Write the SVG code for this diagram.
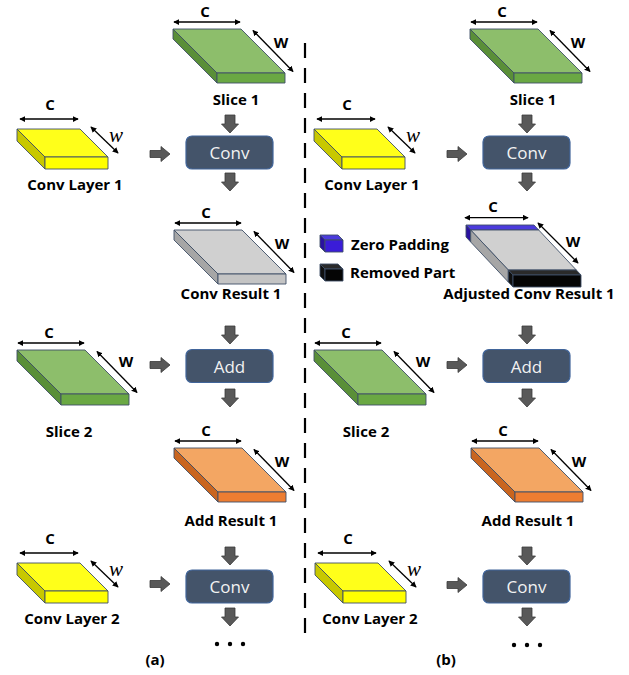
<svg xmlns="http://www.w3.org/2000/svg" width="629" height="675" viewBox="0 0 629 675">
  <style>
    .lbl { font-family: "Open Sans", "Liberation Sans", Arial, sans-serif; font-weight: 700; font-size: 15px; fill: #000; text-anchor: middle; }
    .dim { font-family: "Open Sans", "Liberation Sans", Arial, sans-serif; font-weight: 700; font-size: 15px; fill: #000; text-anchor: middle; }
    .wi { font-family: "Liberation Serif", "DejaVu Serif", serif; font-style: italic; font-size: 21px; fill: #000; text-anchor: middle; }
    .leg { font-family: "Open Sans", "Liberation Sans", Arial, sans-serif; font-weight: 700; font-size: 15px; fill: #000; }
    .op { fill: #44546A; stroke: #41659A; stroke-width: 1.2; }
    .opt { font-family: "Open Sans", "Liberation Sans", Arial, sans-serif; font-size: 17px; fill: #F2F2F2; text-anchor: middle; }
    .edge { stroke: #3E4F66; stroke-width: 0.9; stroke-linejoin: round; }
    .gT { fill: #8DBE6B; } .gF { fill: #6AA843; } .gL { fill: #5A8F38; }
    .yT { fill: #FFFF1A; } .yF { fill: #FFFF00; } .yL { fill: #C8C800; }
    .sT { fill: #D0D0D0; } .sF { fill: #C4C4C4; } .sL { fill: #A6A6A6; }
    .oT { fill: #F3A663; } .oF { fill: #ED7D31; } .oL { fill: #C9651F; }
    .bT { fill: #4B3BDC; } .bF { fill: #3A1CD8; } .bL { fill: #2A12A0; }
    .kT { fill: #2A2A2A; } .kF { fill: #050505; } .kL { fill: #101010; }
    .dimline { stroke: #000; stroke-width: 1.3; fill: none; marker-start: url(#tip); marker-end: url(#tip); }
    .blk { fill: #595959; stroke: #3A3A3A; stroke-width: 0.8; }
    .sep { stroke: #000; stroke-width: 2.2; stroke-dasharray: 15 10; }
  </style>
  <defs>
    <marker id="tip" viewBox="0 0 8 8" refX="7" refY="4" markerWidth="6" markerHeight="6" markerUnits="userSpaceOnUse" orient="auto-start-reverse">
      <path d="M0,0 L8,4 L0,8 Z" fill="#000"/>
    </marker>
    <path id="down" class="blk" d="M-5,0 H5 V9 H8.5 L0,18 L-8.5,9 H-5 Z"/>
    <path id="right" class="blk" d="M0,-3.5 H11 V-7.5 L20,0 L11,7.5 V3.5 H0 Z"/>
  </defs>

  <!-- separator between the two variants -->
  <line class="sep" x1="305" y1="43" x2="305" y2="635"/>

  <!-- ===== (a) ===== -->
  <g id="a-slice1" transform="translate(173,29)">
    <polygon class="gT edge" points="0,0 68,0 112,44 44,44"/>
    <polygon class="gL edge" points="0,0 44,44 44,54 0,10"/>
    <polygon class="gF edge" points="44,44 112,44 112,54 44,54"/>
    <line class="dimline" x1="1" y1="-7" x2="67" y2="-7"/>
    <text class="dim" x="32" y="-12">C</text>
    <line class="dimline" x1="80" y1="1.5" x2="120" y2="42.5"/>
    <text class="dim" x="108" y="19">W</text>
    <text class="lbl" x="63" y="76">Slice 1</text>
  </g>

  <g id="a-convlayer1" transform="translate(17,129)">
    <polygon class="yT edge" points="0,0 63,0 91,28 28,28"/>
    <polygon class="yL edge" points="0,0 28,28 28,40 0,12"/>
    <polygon class="yF edge" points="28,28 91,28 91,40 28,40"/>
    <line class="dimline" x1="3" y1="-10" x2="61" y2="-10"/>
    <text class="dim" x="33" y="-19">C</text>
    <line class="dimline" x1="74" y1="-2" x2="101" y2="24"/>
    <text class="wi" x="99" y="12.5">w</text>
    <text class="lbl" x="58" y="60.5">Conv Layer 1</text>
  </g>

  <g id="a-conv1">
    <rect class="op" x="186" y="136" width="87" height="33" rx="6"/>
    <text class="opt" x="229.5" y="159">Conv</text>
  </g>

  <g id="a-convresult1" transform="translate(174,230)">
    <polygon class="sT edge" points="0,0 68,0 112,44 44,44"/>
    <polygon class="sL edge" points="0,0 44,44 44,54 0,10"/>
    <polygon class="sF edge" points="44,44 112,44 112,54 44,54"/>
    <line class="dimline" x1="1" y1="-7" x2="67" y2="-7"/>
    <text class="dim" x="32" y="-12">C</text>
    <line class="dimline" x1="80" y1="1.5" x2="120" y2="42.5"/>
    <text class="dim" x="108" y="19">W</text>
    <text class="lbl" x="57" y="68.5">Conv Result 1</text>
  </g>

  <g id="a-slice2" transform="translate(17,350)">
    <polygon class="gT edge" points="0,0 68,0 112,44 44,44"/>
    <polygon class="gL edge" points="0,0 44,44 44,55 0,11"/>
    <polygon class="gF edge" points="44,44 112,44 112,55 44,55"/>
    <line class="dimline" x1="1" y1="-7" x2="67" y2="-7"/>
    <text class="dim" x="32" y="-12">C</text>
    <line class="dimline" x1="80" y1="1.5" x2="120" y2="42.5"/>
    <text class="dim" x="109" y="17">W</text>
    <text class="lbl" x="52" y="87">Slice 2</text>
  </g>

  <g id="a-add1">
    <rect class="op" x="186" y="349.5" width="87" height="33" rx="6"/>
    <text class="opt" x="229.5" y="372.5">Add</text>
  </g>

  <g id="a-addresult1" transform="translate(174,448)">
    <polygon class="oT edge" points="0,0 68,0 112,44 44,44"/>
    <polygon class="oL edge" points="0,0 44,44 44,54 0,10"/>
    <polygon class="oF edge" points="44,44 112,44 112,54 44,54"/>
    <line class="dimline" x1="1" y1="-7" x2="67" y2="-7"/>
    <text class="dim" x="32" y="-12">C</text>
    <line class="dimline" x1="80" y1="1.5" x2="120" y2="42.5"/>
    <text class="dim" x="108" y="19">W</text>
    <text class="lbl" x="57" y="78">Add Result 1</text>
  </g>

  <g id="a-convlayer2" transform="translate(17,563)">
    <polygon class="yT edge" points="0,0 63,0 91,28 28,28"/>
    <polygon class="yL edge" points="0,0 28,28 28,40 0,12"/>
    <polygon class="yF edge" points="28,28 91,28 91,40 28,40"/>
    <line class="dimline" x1="3" y1="-10" x2="61" y2="-10"/>
    <text class="dim" x="33" y="-19">C</text>
    <line class="dimline" x1="74" y1="-2" x2="101" y2="24"/>
    <text class="wi" x="99" y="12.5">w</text>
    <text class="lbl" x="55" y="60.5">Conv Layer 2</text>
  </g>

  <g id="a-conv2">
    <rect class="op" x="186" y="570" width="87" height="33" rx="6"/>
    <text class="opt" x="229.5" y="593">Conv</text>
  </g>

  <g id="a-more">
    <circle cx="217" cy="644" r="2.2"/>
    <circle cx="230" cy="644" r="2.2"/>
    <circle cx="243" cy="644" r="2.2"/>
    <text class="lbl" x="155" y="665">(a)</text>
  </g>

  <!-- ===== (b) ===== -->
  <g id="b-slice1" transform="translate(470,29)">
    <polygon class="gT edge" points="0,0 68,0 112,44 44,44"/>
    <polygon class="gL edge" points="0,0 44,44 44,54 0,10"/>
    <polygon class="gF edge" points="44,44 112,44 112,54 44,54"/>
    <line class="dimline" x1="1" y1="-7" x2="67" y2="-7"/>
    <text class="dim" x="32" y="-12">C</text>
    <line class="dimline" x1="80" y1="1.5" x2="120" y2="42.5"/>
    <text class="dim" x="108" y="19">W</text>
    <text class="lbl" x="63" y="76">Slice 1</text>
  </g>

  <g id="b-convlayer1" transform="translate(314,129)">
    <polygon class="yT edge" points="0,0 63,0 91,28 28,28"/>
    <polygon class="yL edge" points="0,0 28,28 28,40 0,12"/>
    <polygon class="yF edge" points="28,28 91,28 91,40 28,40"/>
    <line class="dimline" x1="3" y1="-10" x2="61" y2="-10"/>
    <text class="dim" x="33" y="-19">C</text>
    <line class="dimline" x1="74" y1="-2" x2="101" y2="24"/>
    <text class="wi" x="99" y="12.5">w</text>
    <text class="lbl" x="58" y="60.5">Conv Layer 1</text>
  </g>

  <g id="b-conv1">
    <rect class="op" x="483" y="136" width="87" height="33" rx="6"/>
    <text class="opt" x="526.5" y="159">Conv</text>
  </g>

  <g id="legend">
    <polygon class="bT edge" points="320,235 338,235 343,240 325,240"/>
    <polygon class="bL edge" points="320,235 325,240 325,252 320,247"/>
    <rect class="bF edge" x="325" y="240" width="18" height="12"/>
    <text class="leg" x="351" y="249.5">Zero Padding</text>
    <polygon class="kT edge" points="320,264 338,264 343,269 325,269"/>
    <polygon class="kL edge" points="320,264 325,269 325,281 320,276"/>
    <rect class="kF edge" x="325" y="269" width="18" height="12"/>
    <text class="leg" x="350" y="278">Removed Part</text>
  </g>

  <g id="b-adjusted1" transform="translate(466,225)">
    <!-- zero-padding band along the back edge -->
    <polygon class="bT edge" points="0,0 68,0 72.7,5 4.7,5"/>
    <polygon class="bL edge" points="0,0 4.7,5 4.7,17 0,12"/>
    <!-- retained result -->
    <polygon class="sT edge" points="4.7,5 72.7,5 110.3,45 42.3,45"/>
    <polygon class="sL edge" points="4.7,5 42.3,45 42.3,57 4.7,17"/>
    <!-- removed band along the front edge -->
    <polygon class="kT edge" points="42.3,45 110.3,45 115,50 47,50"/>
    <polygon class="kL edge" points="42.3,45 47,50 47,62 42.3,57"/>
    <polygon class="kF edge" points="47,50 115,50 115,62 47,62"/>
    <line class="dimline" x1="-1" y1="-7.3" x2="62" y2="-7.3"/>
    <text class="dim" x="27" y="-13">C</text>
    <line class="dimline" x1="72" y1="-2" x2="112" y2="38"/>
    <text class="dim" x="107" y="22">W</text>
    <text class="lbl" x="63" y="73.5">Adjusted Conv Result 1</text>
  </g>

  <g id="b-slice2" transform="translate(314,350)">
    <polygon class="gT edge" points="0,0 68,0 112,44 44,44"/>
    <polygon class="gL edge" points="0,0 44,44 44,55 0,11"/>
    <polygon class="gF edge" points="44,44 112,44 112,55 44,55"/>
    <line class="dimline" x1="1" y1="-7" x2="67" y2="-7"/>
    <text class="dim" x="32" y="-12">C</text>
    <line class="dimline" x1="80" y1="1.5" x2="120" y2="42.5"/>
    <text class="dim" x="109" y="17">W</text>
    <text class="lbl" x="52" y="87">Slice 2</text>
  </g>

  <g id="b-add1">
    <rect class="op" x="483" y="349.5" width="87" height="33" rx="6"/>
    <text class="opt" x="526.5" y="372.5">Add</text>
  </g>

  <g id="b-addresult1" transform="translate(471,448)">
    <polygon class="oT edge" points="0,0 68,0 112,44 44,44"/>
    <polygon class="oL edge" points="0,0 44,44 44,54 0,10"/>
    <polygon class="oF edge" points="44,44 112,44 112,54 44,54"/>
    <line class="dimline" x1="1" y1="-7" x2="67" y2="-7"/>
    <text class="dim" x="32" y="-12">C</text>
    <line class="dimline" x1="80" y1="1.5" x2="120" y2="42.5"/>
    <text class="dim" x="108" y="19">W</text>
    <text class="lbl" x="57" y="78">Add Result 1</text>
  </g>

  <g id="b-convlayer2" transform="translate(315,563)">
    <polygon class="yT edge" points="0,0 63,0 91,28 28,28"/>
    <polygon class="yL edge" points="0,0 28,28 28,40 0,12"/>
    <polygon class="yF edge" points="28,28 91,28 91,40 28,40"/>
    <line class="dimline" x1="3" y1="-10" x2="61" y2="-10"/>
    <text class="dim" x="33" y="-19">C</text>
    <line class="dimline" x1="74" y1="-2" x2="101" y2="24"/>
    <text class="wi" x="99" y="12.5">w</text>
    <text class="lbl" x="55" y="60.5">Conv Layer 2</text>
  </g>

  <g id="b-conv2">
    <rect class="op" x="483" y="570" width="87" height="33" rx="6"/>
    <text class="opt" x="526.5" y="593">Conv</text>
  </g>

  <g id="b-more">
    <circle cx="514" cy="645" r="2.2"/>
    <circle cx="527" cy="645" r="2.2"/>
    <circle cx="540" cy="645" r="2.2"/>
    <text class="lbl" x="446" y="665">(b)</text>
  </g>

  <!-- flow arrows -->
  <g id="connectors">
    <use href="#down" x="230" y="115"/>
    <use href="#down" x="230" y="173"/>
    <use href="#down" x="230" y="326"/>
    <use href="#down" x="230" y="389"/>
    <use href="#down" x="230" y="547"/>
    <use href="#down" x="230" y="608"/>
    <use href="#right" x="150" y="154"/>
    <use href="#right" x="150" y="365"/>
    <use href="#right" x="150" y="584"/>
    <use href="#down" x="527" y="115"/>
    <use href="#down" x="527" y="173"/>
    <use href="#down" x="527" y="326"/>
    <use href="#down" x="527" y="389"/>
    <use href="#down" x="527" y="547"/>
    <use href="#down" x="527" y="608"/>
    <use href="#right" x="447" y="154"/>
    <use href="#right" x="447" y="365"/>
    <use href="#right" x="447" y="585"/>
  </g>
</svg>
